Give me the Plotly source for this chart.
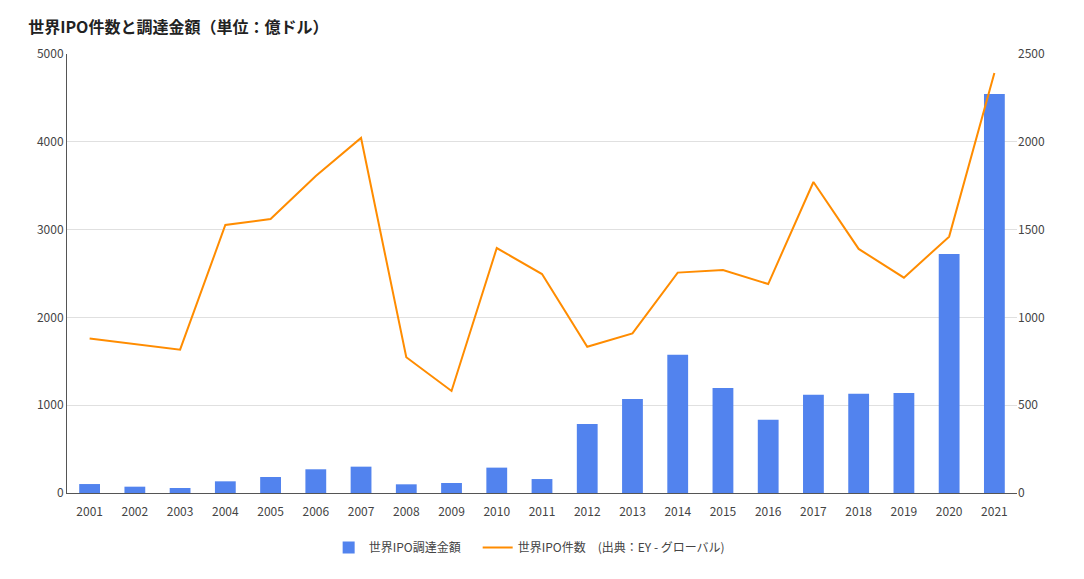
import plotly.graph_objects as go

years = [str(y) for y in range(2001, 2022)]
funds = [102, 72, 57, 133, 182, 270, 300, 99, 114, 289, 159, 786, 1071, 1576, 1196, 835, 1120, 1131, 1139, 2722, 4544]
counts = [880, 850, 816, 1526, 1560, 1805, 2022, 773, 581, 1395, 1247, 833, 909, 1255, 1270, 1190, 1771, 1390, 1226, 1460, 2392]

title = "世界IPO件数と調達金額（単位：億ドル）"
name_bar = "世界IPO調達金額\u3000"
name_line = "世界IPO件数　(出典：EY - グローバル)"

font = "Noto Sans CJK JP, Noto Sans, sans-serif"

fig = go.Figure()
fig.add_trace(go.Bar(x=years, y=funds, name=name_bar, marker=dict(color="#5283ee", line=dict(width=0)), yaxis="y"))
fig.add_trace(go.Scatter(x=years, y=counts, name=name_line, mode="lines",
                         line=dict(color="#ff8c00", width=2), yaxis="y2"))

fig.update_layout(
    width=1084, height=579,
    margin=dict(l=67, r=67, t=54, b=86),
    paper_bgcolor="white", plot_bgcolor="white",
    font=dict(family=font, size=12, color="#444"),
    title=dict(text="<b>" + title + "</b>", x=0.026, xanchor="left", y=0.952, yanchor="middle",
               font=dict(size=16, color="#222", family=font)),
    bargap=0.54,
    xaxis=dict(type="category", showgrid=False, showline=True, linecolor="#555", linewidth=1,
               ticks="", ticklabelstandoff=8, tickfont=dict(size=12, color="#444")),
    yaxis=dict(range=[0, 5000], dtick=1000, showgrid=True, gridcolor="#e0e0e0",
               showline=True, linecolor="#555", linewidth=1, zeroline=False,
               ticks="", tickfont=dict(size=12, color="#444")),
    yaxis2=dict(range=[0, 2500], dtick=500, overlaying="y", side="right", showgrid=False,
                showline=False, zeroline=False, ticks="", tickfont=dict(size=12, color="#444")),
    legend=dict(orientation="h", x=0.487, xanchor="center", y=-0.091, yanchor="top",
                font=dict(size=12, color="#444"), itemwidth=30),
    showlegend=True,
)

fig.write_html("out.html")
